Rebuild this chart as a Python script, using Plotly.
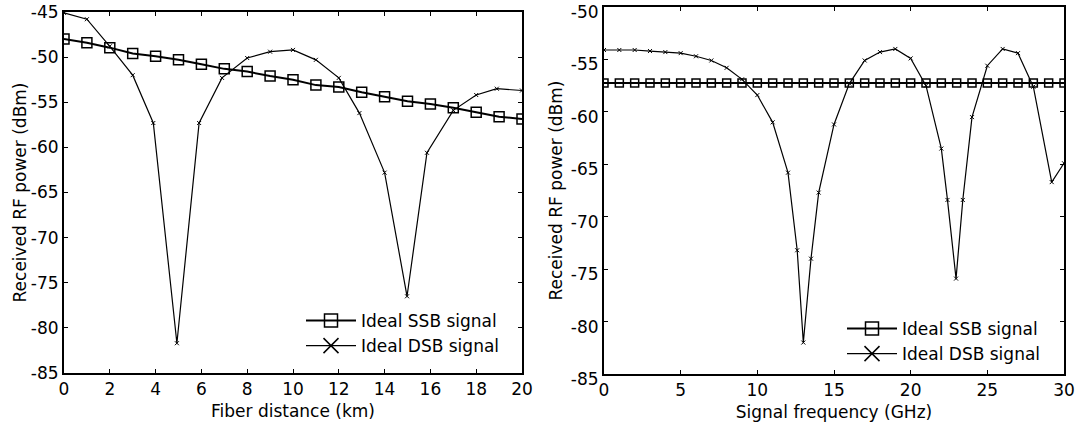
import plotly.graph_objects as go

# ---------------- data: left panel (fiber distance) ----------------
dist_km = [0, 1, 2, 3, 4, 5, 6, 7, 8, 9, 10, 11, 12, 13, 14, 15, 16, 17, 18, 19, 20]
ssb_dist = [-48.0, -48.4, -48.95, -49.6, -49.9, -50.3, -50.8, -51.3, -51.6, -52.1, -52.5,
            -53.1, -53.3, -53.9, -54.4, -54.9, -55.2, -55.6, -56.1, -56.6, -56.85]
dsb_dist_x = [0, 1, 2, 3, 3.9, 4.93, 5.9, 6.9, 8, 9, 10, 11, 12, 12.9, 14, 14.98, 15.85, 17, 18, 18.9, 20]
dsb_dist = [-45.1, -45.8, -48.8, -52.0, -57.3, -81.7, -57.3, -52.3, -50.1, -49.4, -49.2,
            -50.3, -52.3, -56.2, -62.8, -76.5, -60.6, -55.9, -54.2, -53.5, -53.7]

# ---------------- data: right panel (signal frequency) ----------------
freq_ghz = list(range(0, 31))
ssb_freq = [-57.25] * 31
dsb_freq_x = [0, 1, 2, 3, 4, 5, 6, 7, 8, 9, 10, 11, 12, 12.6, 13, 13.5, 14, 15, 16, 17, 18, 19,
              20, 21, 22, 22.4, 22.96, 23.4, 24, 25, 26, 27, 28, 29.2, 30]
dsb_freq = [-54.1, -54.1, -54.1, -54.2, -54.3, -54.4, -54.7, -55.1, -55.8, -56.9, -58.4, -61.0,
            -65.8, -73.2, -82.0, -74.0, -67.7, -61.2, -57.3, -55.1, -54.3, -54.0,
            -54.9, -57.5, -63.5, -68.4, -75.9, -68.4, -60.5, -55.6, -54.0, -54.4, -57.6, -66.7, -64.9]

# ---------------- tick labels ----------------
x1_ticks = [0, 2, 4, 6, 8, 10, 12, 14, 16, 18, 20]
x1_text = ["0", "2", "4", "6", "8", "10", "12", "14", "16", "18", "20"]
y1_ticks = [-85, -80, -75, -70, -65, -60, -55, -50, -45]
y1_text = ["-85", "-80", "-75", "-70", "-65", "-60", "-55", "-50", "-45"]
x2_ticks = [0, 5, 10, 15, 20, 25, 30]
x2_text = ["0", "5", "10", "15", "20", "25", "30"]
y2_ticks = [-85, -80, -75, -70, -65, -60, -55, -50]
y2_text = ["-85", "-80", "-75", "-70", "-65", "-60", "-55", "-50"]

FONT = "DejaVu Sans"
W, H = 1088, 428

fig = go.Figure()

# left panel
fig.add_trace(go.Scatter(x=dist_km, y=ssb_dist, mode="lines+markers", xaxis="x", yaxis="y",
                         line=dict(color="black", width=2),
                         marker=dict(symbol="square-open", size=10, color="black", line=dict(width=1.5)),
                         showlegend=False))
fig.add_trace(go.Scatter(x=dsb_dist_x, y=dsb_dist, mode="lines+markers", xaxis="x", yaxis="y",
                         line=dict(color="black", width=1.2),
                         marker=dict(symbol="x-thin-open", size=4, color="black", line=dict(width=1)),
                         showlegend=False))
# right panel
fig.add_trace(go.Scatter(x=freq_ghz, y=ssb_freq, mode="lines+markers", xaxis="x2", yaxis="y2",
                         line=dict(color="black", width=2),
                         marker=dict(symbol="square-open", size=8, color="black", line=dict(width=1.5)),
                         showlegend=False))
fig.add_trace(go.Scatter(x=dsb_freq_x, y=dsb_freq, mode="lines+markers", xaxis="x2", yaxis="y2",
                         line=dict(color="black", width=1.2),
                         marker=dict(symbol="x-thin-open", size=4, color="black", line=dict(width=1)),
                         showlegend=False))

# legend entries (legend-only traces with larger symbols)
for lg, xa, ya in (("legend", "x", "y"), ("legend2", "x2", "y2")):
    fig.add_trace(go.Scatter(x=[None], y=[None], mode="lines+markers", xaxis=xa, yaxis=ya,
                             name="Ideal SSB signal", legend=lg,
                             line=dict(color="black", width=2),
                             marker=dict(symbol="square-open", size=13, color="black", line=dict(width=1.5))))
    fig.add_trace(go.Scatter(x=[None], y=[None], mode="lines+markers", xaxis=xa, yaxis=ya,
                             name="Ideal DSB signal", legend=lg,
                             line=dict(color="black", width=1.2),
                             marker=dict(symbol="x-thin-open", size=15, color="black", line=dict(width=1.5))))

axis_common = dict(showgrid=False, zeroline=False, showline=True, linecolor="black", linewidth=2,
                   mirror="ticks", ticks="inside", ticklen=4, tickcolor="black", tickwidth=1,
                   automargin=False, ticklabeloverflow="allow",
                   tickfont=dict(family=FONT, size=17, color="black"))

fig.update_layout(
    width=W, height=H,
    margin=dict(l=0, r=0, t=0, b=0),
    paper_bgcolor="white", plot_bgcolor="white",
    font=dict(family=FONT, size=17, color="black"),
    xaxis=dict(domain=[64 / W, 522 / W], range=[0, 20], tickmode="array", tickvals=x1_ticks,
               ticktext=x1_text, anchor="y",
               title=dict(text="Fiber distance (km)", font=dict(family=FONT, size=17), standoff=7),
               **axis_common),
    yaxis=dict(domain=[(H - 373) / H, (H - 12) / H], range=[-85, -45], tickmode="array",
               tickvals=y1_ticks, ticktext=y1_text, anchor="x",
               title=dict(text="Received RF power (dBm)", font=dict(family=FONT, size=17), standoff=0),
               **axis_common),
    xaxis2=dict(domain=[604 / W, 1064 / W], range=[0, 30], tickmode="array", tickvals=x2_ticks,
                ticktext=x2_text, anchor="y2",
                title=dict(text="Signal frequency (GHz)", font=dict(family=FONT, size=17), standoff=7),
                **axis_common),
    yaxis2=dict(domain=[(H - 374) / H, (H - 7) / H], range=[-85, -50], tickmode="array",
                tickvals=y2_ticks, ticktext=y2_text, anchor="x2", ticklabelshift=5,
                title=dict(text="Received RF power (dBm)", font=dict(family=FONT, size=17), standoff=4),
                **axis_common),
    legend=dict(x=301 / W, y=(H - 303) / H, xanchor="left", yanchor="top",
                bgcolor="rgba(0,0,0,0)", borderwidth=0, itemwidth=50,
                font=dict(family=FONT, size=17), tracegroupgap=0),
    legend2=dict(x=842 / W, y=(H - 311) / H, xanchor="left", yanchor="top",
                 bgcolor="rgba(0,0,0,0)", borderwidth=0, itemwidth=50,
                 font=dict(family=FONT, size=17), tracegroupgap=0),
)

fig.write_html("out.html", config={"displayModeBar": False},
               post_script="document.body.style.margin='0';")
